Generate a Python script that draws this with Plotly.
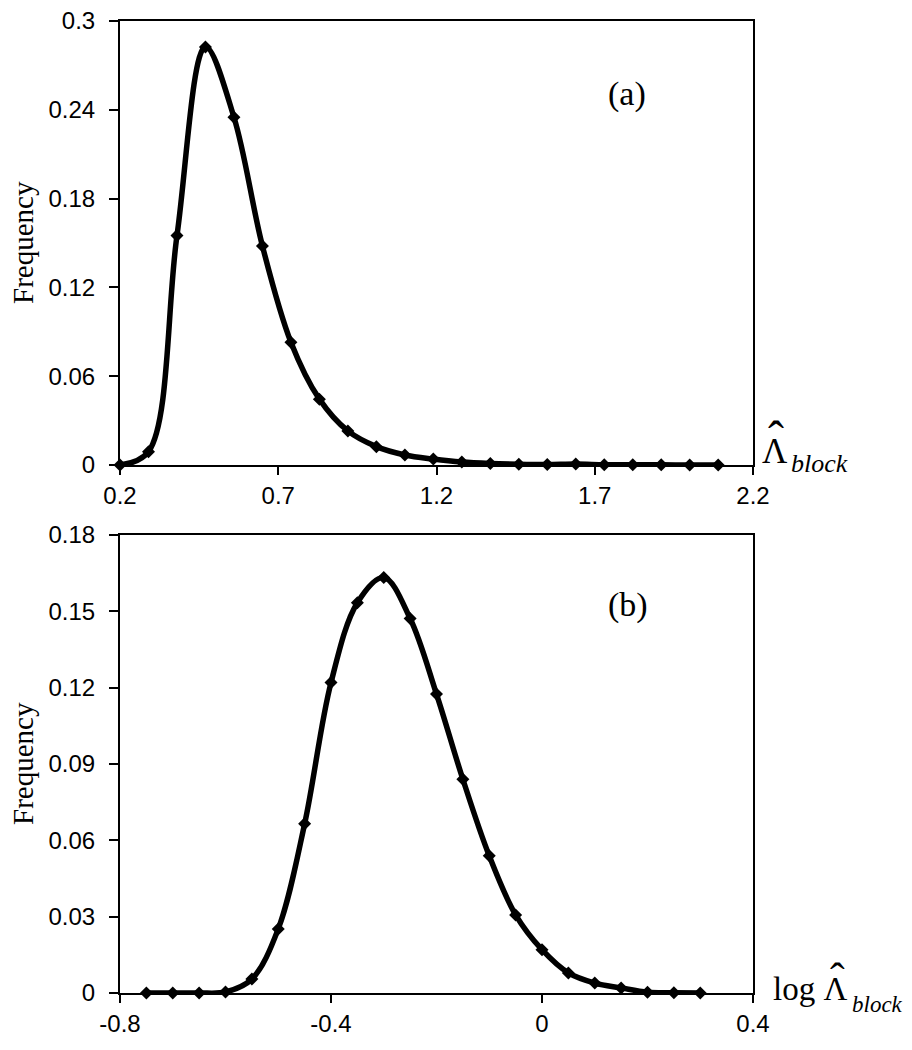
import plotly.graph_objects as go

# Panel (a): distribution of Lambda_block estimates
x_a = [0.20, 0.29, 0.38, 0.47, 0.56, 0.65, 0.74, 0.83, 0.92, 1.01, 1.10,
       1.19, 1.28, 1.37, 1.46, 1.55, 1.64, 1.73, 1.82, 1.91, 2.00, 2.09]
y_a = [0.000, 0.009, 0.155, 0.2825, 0.235, 0.148, 0.083, 0.0445, 0.023, 0.0124, 0.0068,
       0.004, 0.002, 0.001, 0.0005, 0.0003, 0.0006, 0.0002, 0.0001, 0.0001, 0.0, 0.0]

# Panel (b): distribution of log Lambda_block
x_b = [-0.75, -0.70, -0.65, -0.60, -0.55, -0.50, -0.45, -0.40, -0.35, -0.30, -0.25,
       -0.20, -0.15, -0.10, -0.05, 0.00, 0.05, 0.10, 0.15, 0.20, 0.25, 0.30]
y_b = [0.0, 0.0, 0.0, 0.0004, 0.0055, 0.0252, 0.0665, 0.122, 0.1534, 0.1633, 0.1472,
       0.1175, 0.084, 0.0539, 0.0307, 0.017, 0.0079, 0.0039, 0.002, 0.0003, 0.0001, 0.0]

xa_ticks = [0.2, 0.7, 1.2, 1.7, 2.2]
xa_text = ["0.2", "0.7", "1.2", "1.7", "2.2"]
ya_ticks = [0, 0.06, 0.12, 0.18, 0.24, 0.3]
ya_text = ["0", "0.06", "0.12", "0.18", "0.24", "0.3"]
xb_ticks = [-0.8, -0.4, 0, 0.4]
xb_text = ["-0.8", "-0.4", "0", "0.4"]
yb_ticks = [0, 0.03, 0.06, 0.09, 0.12, 0.15, 0.18]
yb_text = ["0", "0.03", "0.06", "0.09", "0.12", "0.15", "0.18"]

line_style = dict(color="black", width=5.5, shape="spline", smoothing=1)
marker_style = dict(symbol="diamond", size=10, color="black")

fig = go.Figure()
fig.add_trace(go.Scatter(x=x_a, y=y_a, mode="lines+markers", line=line_style,
                         marker=marker_style, xaxis="x", yaxis="y", cliponaxis=False,
                         showlegend=False))
fig.add_trace(go.Scatter(x=x_b, y=y_b, mode="lines+markers", line=line_style,
                         marker=marker_style, xaxis="x2", yaxis="y2", cliponaxis=False,
                         showlegend=False))

tickfont = dict(family="Liberation Sans, Arial", size=24, color="black")
common = dict(showline=True, linecolor="black", linewidth=2, mirror=True,
              ticks="outside", tickcolor="black", tickwidth=1.5, automargin=False,
              showgrid=False, zeroline=False, tickfont=tickfont)

fig.update_layout(
    width=912, height=1050,
    margin=dict(l=120, r=159, t=21, b=57),
    paper_bgcolor="white", plot_bgcolor="white",
    xaxis=dict(domain=[0, 1], anchor="y", range=[0.2, 2.2], tickvals=xa_ticks,
               ticktext=xa_text, ticklen=8, ticklabelstandoff=0, **common),
    yaxis=dict(domain=[0.5432, 1], anchor="x", range=[0, 0.3], tickvals=ya_ticks,
               ticktext=ya_text, ticklen=9, ticklabelstandoff=9, **common),
    xaxis2=dict(domain=[0, 1], anchor="y2", range=[-0.8, 0.4], tickvals=xb_ticks,
                ticktext=xb_text, ticklen=8, ticklabelstandoff=0, **common),
    yaxis2=dict(domain=[0, 0.4712], anchor="x2", range=[0, 0.18], tickvals=yb_ticks,
                ticktext=yb_text, ticklen=9, ticklabelstandoff=9, **common),
)

serif = "Liberation Serif, Times New Roman"


def px(xp):
    return (xp - 120) / 633


def py(yp):
    return (993 - yp) / 972


ann = []
for yc in (243, 764):
    ann.append(dict(text="Frequency", xref="paper", yref="paper", x=px(23), y=py(yc),
                    xanchor="center", yanchor="middle", textangle=-90, showarrow=False,
                    font=dict(family=serif, size=29, color="black")))
ann.append(dict(text="(a)", xref="paper", yref="paper", x=px(627), y=py(94),
                xanchor="center", yanchor="middle", showarrow=False,
                font=dict(family=serif, size=34, color="black")))
ann.append(dict(text="(b)", xref="paper", yref="paper", x=px(628), y=py(605),
                xanchor="center", yanchor="middle", showarrow=False,
                font=dict(family=serif, size=34, color="black")))
# x-axis title, panel (a)
ann.append(dict(text="\u039b", xref="paper", yref="paper", x=px(760), y=py(451),
                xanchor="left", yanchor="middle", showarrow=False,
                font=dict(family=serif, size=35, color="black")))
ann.append(dict(text="\u02c6", xref="paper", yref="paper", x=px(776), y=py(438),
                xanchor="center", yanchor="middle", showarrow=False,
                font=dict(family=serif, size=48, color="black")))
ann.append(dict(text="<i>block</i>", xref="paper", yref="paper", x=px(789), y=py(464),
                xanchor="left", yanchor="middle", showarrow=False,
                font=dict(family=serif, size=26, color="black")))
# x-axis title, panel (b)
ann.append(dict(text="log \u039b", xref="paper", yref="paper", x=px(771), y=py(989),
                xanchor="left", yanchor="middle", showarrow=False,
                font=dict(family=serif, size=33, color="black")))
ann.append(dict(text="\u02c6", xref="paper", yref="paper", x=px(837), y=py(978),
                xanchor="center", yanchor="middle", showarrow=False,
                font=dict(family=serif, size=44, color="black")))
ann.append(dict(text="<i>block</i>", xref="paper", yref="paper", x=px(850), y=py(1004),
                xanchor="left", yanchor="middle", showarrow=False,
                font=dict(family=serif, size=23, color="black")))
fig.update_layout(annotations=ann)

fig.write_html(
    "out.html",
    config={"displayModeBar": False},
    post_script="document.body.style.margin='0';"
                "document.documentElement.style.overflow='hidden';",
)
